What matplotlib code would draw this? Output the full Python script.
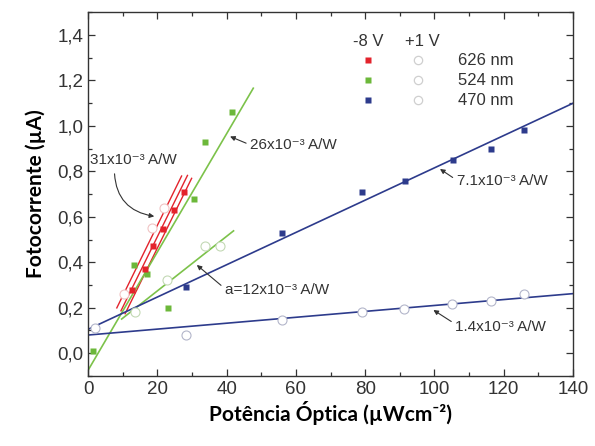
import numpy as np
import matplotlib.pyplot as plt
from matplotlib.ticker import MultipleLocator, FuncFormatter

# -8 V (filled squares)
red_x = [12.8, 16.3, 18.7, 21.7, 24.8, 27.6]
red_y = [0.28, 0.37, 0.47, 0.545, 0.63, 0.71]
green_x = [1.3, 13.3, 16.9, 23.2, 30.6, 33.7, 41.7]
green_y = [0.01, 0.39, 0.35, 0.20, 0.68, 0.93, 1.06]
blue_x = [28.3, 55.9, 79.0, 91.5, 105.5, 116.3, 125.9]
blue_y = [0.29, 0.53, 0.71, 0.755, 0.85, 0.90, 0.98]

# +1 V (open circles)
red_o_x = [10.5, 18.4, 22.0]
red_o_y = [0.26, 0.55, 0.64]
green_o_x = [13.6, 22.9, 33.8, 38.1]
green_o_y = [0.18, 0.32, 0.47, 0.47]
blue_o_x = [2.0, 28.3, 55.9, 79.0, 91.3, 105.2, 116.3, 125.9]
blue_o_y = [0.11, 0.08, 0.145, 0.18, 0.195, 0.215, 0.23, 0.26]

# fitted lines: (slope, intercept, x start, x end)
red_fits = [(0.031, -0.058, 8.3, 27.0), (0.031, -0.108, 9.5, 28.7), (0.031, -0.158, 10.7, 29.9)]
green_fit = (0.026, -0.075, 0.0, 47.7)
green_o_fit = (0.012, 0.034, 9.7, 42.0)
blue_fit = (0.0071, 0.105, 0.0, 140.0)
blue_o_fit = (0.0013, 0.08, 0.0, 140.0)

wavelengths = ["626 nm", "524 nm", "470 nm"]

c_red = "#e3232c"
c_green = "#6cb83a"
c_blue = "#2d3b8c"
c_gline = "#7cc24a"
txt = "#333333"
fam = ["Liberation Sans", "DejaVu Sans"]

fig = plt.figure(figsize=(5.95, 4.46), dpi=100)
ax = fig.add_axes([0.148, 0.157, 0.815, 0.816])


def fitline(fit, color, lw=1.2):
    k, b, x0, x1 = fit
    xs = np.array([x0, x1])
    ax.plot(xs, k * xs + b, color=color, lw=lw, zorder=2)


for f in red_fits:
    fitline(f, c_red, 1.0)
fitline(green_fit, c_gline)
fitline(green_o_fit, c_gline)
fitline(blue_fit, c_blue)
fitline(blue_o_fit, c_blue)

ax.plot(green_x, green_y, "s", color=c_green, ms=5, mec="none", zorder=3)
ax.plot(red_x, red_y, "s", color=c_red, ms=5, mec="none", zorder=3)
ax.plot(blue_x, blue_y, "s", color=c_blue, ms=5, mec="none", zorder=3)
ax.plot(red_o_x, red_o_y, "o", mfc="white", mec="#f0c4c4", ms=6.5, mew=0.8, zorder=3)
ax.plot(green_o_x, green_o_y, "o", mfc="white", mec="#c3d9b5", ms=6.5, mew=0.8, zorder=3)
ax.plot(blue_o_x, blue_o_y, "o", mfc="white", mec="#b3b6ca", ms=6.5, mew=0.8, zorder=3)

# legend drawn by hand
ax.text(0.577, 0.918, "-8 V", transform=ax.transAxes, ha="center", va="center",
        fontsize=12, color=txt, family=fam)
ax.text(0.689, 0.918, "+1 V", transform=ax.transAxes, ha="center", va="center",
        fontsize=12, color=txt, family=fam)
rows = [0.868, 0.812, 0.757]
for row, col, lab in zip(rows, [c_red, c_green, c_blue], wavelengths):
    ax.plot([0.577], [row], "s", color=col, ms=5, mec="none", transform=ax.transAxes)
    ax.plot([0.680], [row], "o", mfc="white", mec="#cfcfcf", ms=6, mew=0.9, transform=ax.transAxes)
    ax.text(0.763, row, lab, transform=ax.transAxes, va="center", fontsize=12,
            color=txt, family=fam)

# annotations
afont = dict(fontsize=11, color=txt, family=fam)
arr = dict(arrowstyle="-|>", color=txt, lw=0.8, mutation_scale=7)
ax.annotate("31x10⁻³ A/W", xy=(19.9, 0.60), xytext=(0.6, 0.85), va="center",
            arrowprops=dict(arr, connectionstyle="arc3,rad=0.45", relpos=(0.28, 0.0), shrinkA=3),
            **afont)
ax.annotate("26x10⁻³ A/W", xy=(41.0, 0.953), xytext=(46.8, 0.916), va="center",
            arrowprops=dict(arr, relpos=(0.0, 0.5), shrinkA=1, shrinkB=0), **afont)
ax.annotate("a=12x10⁻³ A/W", xy=(31.4, 0.388), xytext=(39.5, 0.278), va="center",
            arrowprops=dict(arr, relpos=(0.0, 0.6), shrinkA=1, shrinkB=0), **afont)
ax.annotate("7.1x10⁻³ A/W", xy=(101.6, 0.81), xytext=(106.4, 0.755), va="center",
            arrowprops=dict(arr, relpos=(0.0, 0.6), shrinkA=1, shrinkB=0), **afont)
ax.annotate("1.4x10⁻³ A/W", xy=(99.7, 0.19), xytext=(106.0, 0.116), va="center",
            arrowprops=dict(arr, relpos=(0.0, 0.7), shrinkA=1, shrinkB=0), **afont)

ax.set_xlim(0, 140)
ax.set_ylim(-0.1, 1.5)
ax.xaxis.set_major_locator(MultipleLocator(20))
ax.xaxis.set_minor_locator(MultipleLocator(10))
ax.yaxis.set_major_locator(MultipleLocator(0.2))
ax.yaxis.set_minor_locator(MultipleLocator(0.1))
ax.yaxis.set_major_formatter(FuncFormatter(lambda v, p: f"{v:.1f}".replace(".", ",").replace("-0,0", "0,0")))
ax.tick_params(which="both", direction="in", top=True, right=True, colors=txt,
               labelsize=13.5)
ax.tick_params(which="major", length=5, width=0.9)
ax.tick_params(which="minor", length=3, width=0.9)
for lab in ax.get_xticklabels() + ax.get_yticklabels():
    lab.set_family(fam)
for s in ax.spines.values():
    s.set_color(txt)
    s.set_linewidth(1.0)

ax.set_xlabel("Potência Óptica (µWcm⁻²)", fontsize=15, fontweight="bold",
              family=["Lato", "DejaVu Sans"], labelpad=2)
ax.set_ylabel("Fotocorrente (µA)", fontsize=15, fontweight="bold",
              family=["Lato", "DejaVu Sans"], labelpad=8)

fig.savefig("out.png", dpi=100)
